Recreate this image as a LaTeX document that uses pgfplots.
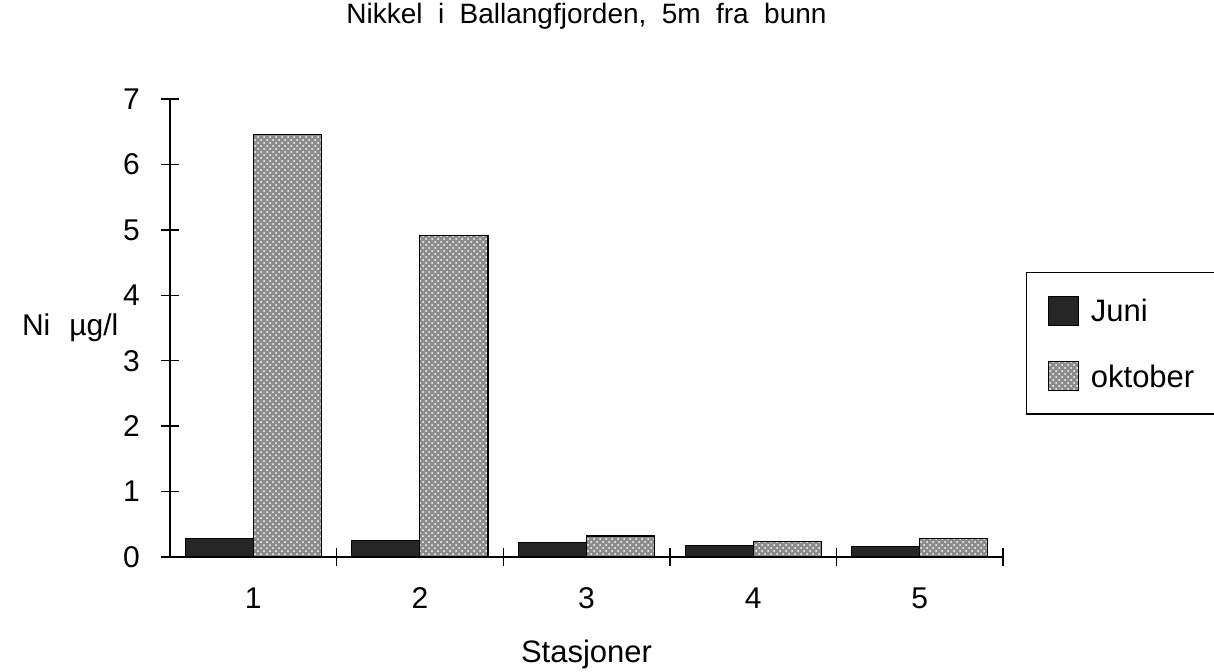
\documentclass[border=0pt]{standalone}
\usepackage{pgfplots}
\usepackage{pgfplotstable}
\pgfplotsset{compat=1.18}
\usepackage{fontspec}
\setmainfont{Liberation Sans}
\usetikzlibrary{patterns}

\pgfplotstableread{
st juni okt
1 0.28 6.46
2 0.25 4.92
3 0.22 0.32
4 0.18 0.24
5 0.16 0.28
}\data

\begin{document}
\begin{tikzpicture}
\path[use as bounding box] (-85pt,-57pt) rectangle (522pt,278.5pt);
\begin{axis}[
  at={(0pt,0pt)}, anchor=south west, scale only axis,
  width=416.5pt, height=229pt,
  xmin=0.5, xmax=5.5, ymin=0, ymax=7,
  axis x line*=bottom, axis y line*=left,
  axis line style={line width=0.7pt},
  ybar=0pt, bar width=34pt,
  xtick={1.5,2.5,3.5,4.5,5.5}, xticklabels={},
  extra x ticks={1,2,3,4,5},
  extra x tick labels={1,2,3,4,5},
  extra x tick style={major tick length=0pt},
  ytick={0,...,7},
  tick align=center,
  major tick length=9pt,
  tick style={line width=0.7pt, black},
  /pgf/number format/assume math mode=true,
  tick label style={font=\fontsize{15}{17}\selectfont},
  xticklabel style={anchor=north, yshift=-11pt, text height=11pt, text depth=0pt},
  yticklabel style={xshift=-7pt},
  title={Nikkel\hspace{0.55em}i\hspace{0.55em}Ballangfjorden,\hspace{0.55em}5m\hspace{0.55em}fra\hspace{0.55em}bunn},
  title style={at={(0.5,1.1397)}, anchor=base, font=\fontsize{14}{16}\selectfont},
  xlabel={Stasjoner},
  xlabel style={at={(0.5,-0.2293)}, anchor=base, font=\fontsize{15.5}{17}\selectfont},
  ylabel={Ni\hspace{9.5pt}µg/l},
  ylabel style={at={(-0.1861,0.4847)}, rotate=-90, anchor=base west, font=\fontsize{15}{17}\selectfont},
  legend style={at={(1.0276,0.6223)}, anchor=north west, draw=black, line width=0.7pt,
    inner xsep=10.5pt, inner ysep=11.5pt, row sep=17.5pt, column sep=6pt,
    nodes={inner sep=0pt, text height=11pt, text depth=0pt},
    font=\fontsize{15.5}{17}\selectfont},
  legend cell align=left,
  legend image code/.code={\draw[#1] (0pt,-7.25pt) rectangle (15pt,7.25pt);},
]
\addplot[fill=black!85, draw=black, line width=0.6pt] table[x=st,y=juni]{\data};
\addplot[fill=black!45, postaction={pattern=crosshatch dots, pattern color=white}, draw=black, line width=0.6pt] table[x=st,y=okt]{\data};
\legend{Juni, oktober}
\end{axis}
\end{tikzpicture}
\end{document}
